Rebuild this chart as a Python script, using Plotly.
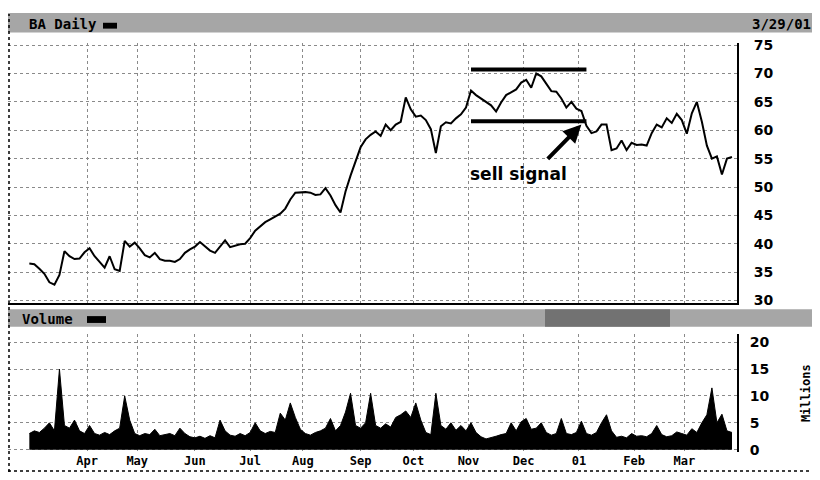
import pandas as pd
import plotly.graph_objects as go

# ---------------- data ----------------
start_date = "2000-03-01"
end_date = "2001-03-29"

# closing price, sampled every second trading day
price = [36.5, 36.4, 35.6, 34.7, 33.2, 32.8, 34.5, 38.7, 37.8, 37.3,
         37.4, 38.5, 39.2, 37.8, 36.8, 35.8, 37.8, 35.5, 35.2, 40.5,
         39.5, 40.2, 39.2, 38.0, 37.6, 38.4, 37.3, 37.0, 37.0, 36.8,
         37.3, 38.4, 39.0, 39.5, 40.3, 39.5, 38.8, 38.4, 39.5, 40.6,
         39.4, 39.7, 39.9, 40.0, 41.0, 42.3, 43.0, 43.8, 44.3, 44.8,
         45.3, 46.2, 47.8, 49.0, 49.1, 49.1, 49.0, 48.6, 48.7, 49.8,
         48.5, 46.8, 45.5, 49.2, 52.0, 54.5, 57.0, 58.4, 59.2, 59.8,
         59.0, 61.0, 60.0, 61.0, 61.5, 65.8, 63.7, 62.4, 62.6, 61.8,
         60.2, 56.0, 60.7, 61.4, 61.2, 62.1, 62.8, 64.0, 67.0, 66.2,
         65.6, 65.1, 64.4, 63.3, 64.9, 66.2, 66.7, 67.2, 68.4, 68.9,
         67.5, 70.0, 69.5, 68.2, 66.9, 66.8, 65.6, 64.0, 65.0, 63.8,
         63.4, 60.8, 59.5, 59.8, 61.0, 61.0, 56.5, 56.8, 58.2, 56.5,
         57.8, 57.4, 57.5, 57.3, 59.5, 61.0, 60.5, 62.1, 61.3, 62.9,
         61.8, 59.4, 63.0, 65.0, 61.5, 57.3, 55.0, 55.4, 52.2, 55.0,
         55.3]

# volume in millions, same sampling
volume = [3.0, 3.5, 3.2, 4.0, 5.0, 3.5, 15.0, 4.5, 4.0, 5.5,
          3.5, 3.0, 4.5, 3.0, 2.7, 3.2, 2.8, 3.5, 4.0, 10.0,
          5.5, 3.0, 2.6, 3.0, 2.8, 3.8, 2.6, 2.8, 3.0, 2.6,
          4.0, 3.0, 2.4, 2.2, 2.5, 2.1, 2.6, 2.2, 5.5, 3.5,
          2.7, 2.5, 3.0, 2.6, 3.2, 5.0, 3.5, 3.0, 3.4, 3.2,
          6.8, 5.5, 8.7, 6.0, 3.8, 3.0, 2.7, 3.2, 3.5, 4.0,
          5.8, 3.5, 4.5, 7.0, 10.5, 4.5, 4.0, 5.0, 10.5, 4.5,
          4.0, 4.8, 4.2, 6.0, 6.5, 7.2, 6.0, 8.7, 5.5, 3.2,
          2.8, 10.5, 4.5, 3.8, 5.0, 3.6, 4.5, 3.5, 5.0, 3.2,
          2.4, 2.0, 2.2, 2.5, 2.8, 3.0, 5.0, 3.5, 5.2, 5.8,
          3.8, 4.0, 5.0, 3.2, 2.7, 3.0, 5.8, 3.0, 2.8, 3.2,
          5.3, 3.0, 2.7, 3.2, 5.0, 6.5, 3.5, 2.3, 2.5, 2.2,
          3.0, 2.5, 2.6, 2.4, 3.0, 4.5, 2.8, 2.4, 2.6, 3.3,
          3.0, 2.7, 3.9, 3.2, 5.0, 6.5, 11.5, 5.0, 6.6, 3.5,
          3.2]

month_ticks = ["2000-04-03", "2000-05-01", "2000-06-01", "2000-07-03",
               "2000-08-01", "2000-09-01", "2000-10-02", "2000-11-01",
               "2000-12-01", "2001-01-02", "2001-02-01", "2001-03-01"]
month_labels = ["Apr", "May", "Jun", "Jul", "Aug", "Sep", "Oct", "Nov",
                "Dec", "01", "Feb", "Mar"]
price_ticks = [30, 35, 40, 45, 50, 55, 60, 65, 70, 75]
volume_ticks = [0, 5, 10, 15, 20]

resistance_level = 70.7
support_level = 61.6
channel_start = "2000-11-02"
channel_end = "2001-01-05"
signal_date = "2001-01-03"
signal_price = 61.0
arrow_tail_date = "2000-12-14"
arrow_tail_price = 54.7
label_date = "2000-11-29"
label_price = 52.3

# ---------------- figure ----------------
dates = pd.bdate_range(start_date, end_date)[::2]
n = min(len(dates), len(price))
dates = dates[:n]

# the page body adds an 8px margin; work in page pixels and shift
OFF = 8
W, H = 820 - OFF, 480 - OFF
PLOT_L, PLOT_R = 8, 737          # page px of plot area
ML = PLOT_L - OFF
MR = W - (PLOT_R - OFF)
PW = PLOT_R - PLOT_L


def px(xp):
    return (xp - PLOT_L) / PW


def py(yp):
    return 1 - (yp - OFF) / H


fig = go.Figure()
fig.add_trace(go.Scatter(x=dates, y=price[:n], mode="lines",
                         line=dict(color="black", width=2),
                         xaxis="x", yaxis="y", hoverinfo="x+y"))
fig.add_trace(go.Scatter(x=dates, y=volume[:n], mode="lines", fill="tozeroy",
                         line=dict(color="black", width=1), fillcolor="black",
                         xaxis="x2", yaxis="y2", hoverinfo="x+y"))

xrange = ["2000-02-17 12:00", "2001-03-30"]
breaks = [dict(bounds=["sat", "mon"])]
grid = dict(showgrid=True, gridcolor="#8a8a8a", gridwidth=1, griddash="dot")

tick_font = dict(family="DejaVu Sans", size=14, color="black", weight="bold")
month_font = dict(family="DejaVu Sans Mono", size=12, color="black", weight="bold")

fig.update_layout(
    width=W, height=H,
    margin=dict(l=ML, r=MR, t=0, b=0),
    paper_bgcolor="white", plot_bgcolor="white",
    showlegend=False,
    xaxis=dict(domain=[0, 1], anchor="y", range=xrange, rangebreaks=breaks,
               tickvals=month_ticks, showticklabels=False, ticks="",
               showline=True, linecolor="black", linewidth=2, zeroline=False,
               **grid),
    yaxis=dict(domain=[py(305), py(38)], range=[29.48, 75.34], side="right",
               anchor="x", tickvals=price_ticks, ticks="outside", ticklen=12,
               tickcolor="rgba(0,0,0,0)", tickfont=tick_font,
               showline=True, linecolor="black", linewidth=2, zeroline=False,
               **grid),
    xaxis2=dict(domain=[0, 1], anchor="y2", matches="x", range=xrange,
                rangebreaks=breaks, tickvals=month_ticks, ticktext=month_labels,
                tickfont=month_font, ticks="", showline=False, zeroline=False,
                **grid),
    yaxis2=dict(domain=[py(457), py(336)], range=[-0.36, 21.6], side="right",
                anchor="x2", tickvals=volume_ticks, ticks="outside", ticklen=8,
                tickcolor="rgba(0,0,0,0)", tickfont=tick_font,
                showline=True, linecolor="black", linewidth=2, zeroline=False,
                **grid),
)

shapes = []
# header bars
shapes.append(dict(type="rect", xref="paper", yref="paper",
                   x0=px(8), x1=px(820), y0=py(27), y1=py(7),
                   fillcolor="#a6a6a6", line=dict(width=0), layer="below"))
shapes.append(dict(type="rect", xref="paper", yref="paper",
                   x0=px(8), x1=px(820), y0=py(329), y1=py(311),
                   fillcolor="#a6a6a6", line=dict(width=0), layer="below"))
shapes.append(dict(type="rect", xref="paper", yref="paper",
                   x0=px(545), x1=px(670), y0=py(329), y1=py(311),
                   fillcolor="#727272", line=dict(width=0), layer="below"))
# small legend bars
shapes.append(dict(type="rect", xref="paper", yref="paper",
                   x0=px(103), x1=px(117), y0=py(23), y1=py(17),
                   fillcolor="black", line=dict(width=0)))
shapes.append(dict(type="rect", xref="paper", yref="paper",
                   x0=px(87), x1=px(106), y0=py(325), y1=py(318),
                   fillcolor="black", line=dict(width=0)))
# page borders
shapes.append(dict(type="line", xref="paper", yref="paper",
                   x0=px(9), x1=px(9), y0=py(478), y1=py(8),
                   line=dict(color="black", width=1.5, dash="dot")))
shapes.append(dict(type="line", xref="paper", yref="paper",
                   x0=px(8), x1=px(820), y0=py(477), y1=py(477),
                   line=dict(color="black", width=1.5, dash="dot")))
# trading channel lines
for lvl in (resistance_level, support_level):
    shapes.append(dict(type="line", xref="x", yref="y",
                       x0=channel_start, x1=channel_end, y0=lvl, y1=lvl,
                       line=dict(color="black", width=4)))
fig.update_layout(shapes=shapes)

hdr_font = dict(family="DejaVu Sans Mono", size=14, color="black", weight="bold")
annotations = [
    dict(text="BA Daily", xref="paper", yref="paper", x=px(27), y=py(18),
         xanchor="left", yanchor="middle", showarrow=False, font=hdr_font),
    dict(text="3/29/01", xref="paper", yref="paper", x=px(813), y=py(18),
         xanchor="right", yanchor="middle", showarrow=False, font=hdr_font),
    dict(text="Volume", xref="paper", yref="paper", x=px(20), y=py(321),
         xanchor="left", yanchor="middle", showarrow=False, font=hdr_font),
    dict(text="Millions", xref="paper", yref="paper", x=px(806), y=py(397),
         xanchor="center", yanchor="middle", showarrow=False, textangle=-90,
         font=dict(family="DejaVu Sans Mono", size=12, color="black",
                   weight="bold")),
    dict(text="sell signal", xref="x", yref="y", x=label_date, y=label_price,
         xanchor="center", yanchor="middle", showarrow=False,
         font=dict(family="DejaVu Sans", size=17, color="black",
                   weight="bold")),
    dict(text="", xref="x", yref="y", x=signal_date, y=signal_price,
         axref="x", ayref="y", ax=arrow_tail_date, ay=arrow_tail_price,
         showarrow=True, arrowhead=2, arrowsize=0.9, arrowwidth=4,
         arrowcolor="black", standoff=0),
]
fig.update_layout(annotations=annotations)

fig.write_html("out.html")
